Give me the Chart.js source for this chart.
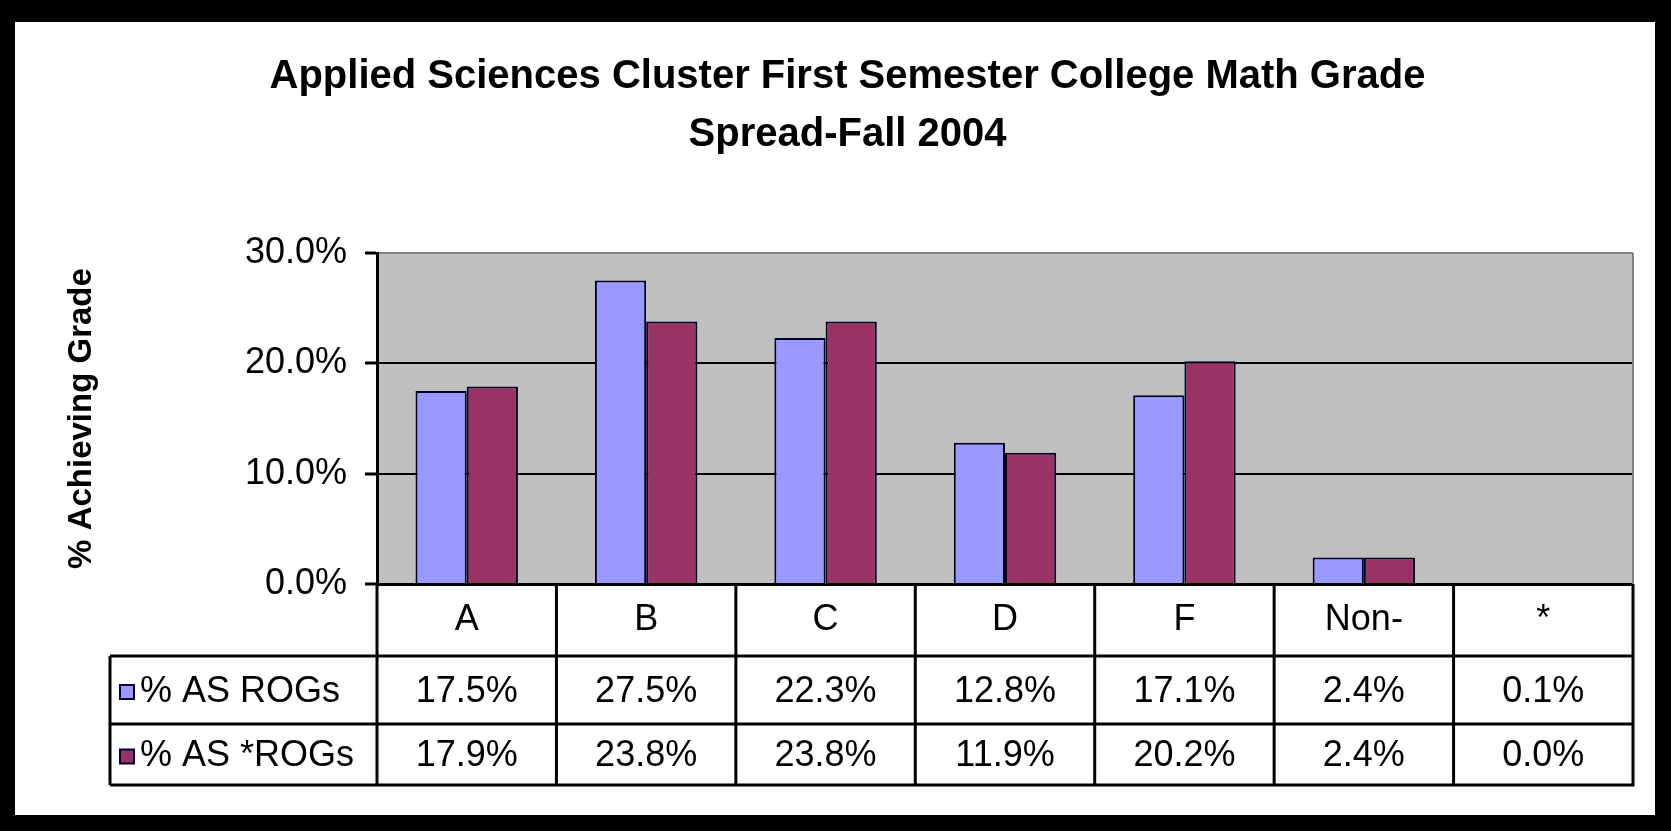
<!DOCTYPE html>
<html>
<head>
<meta charset="utf-8">
<script src="https://cdn.jsdelivr.net/npm/chart.js@4.4.1/dist/chart.umd.min.js"></script>
<style>
  html, body { margin: 0; padding: 0; background: #000; }
  body { width: 1671px; height: 831px; position: relative; overflow: hidden; }
  #frame { position: absolute; left: 15px; top: 22px; width: 1640px; height: 793px; background: #fff; }
</style>
</head>
<body>
<div id="frame"><canvas id="chart"></canvas></div>
<script>
// data
const grades = ['A', 'B', 'C', 'D', 'F', 'Non-', '*'];
const seriesNames = ['% AS ROGs', '% AS *ROGs'];
const rogs = [17.5, 27.5, 22.3, 12.8, 17.1, 2.4, 0.1];
const starRogs = [17.9, 23.8, 23.8, 11.9, 20.2, 2.4, 0.0];
const yTicks = [0, 10, 20, 30];

const BLUE = '#9999FF';
const PLUM = '#993366';
const FONT = "'Liberation Sans', Arial, sans-serif";

Chart.defaults.font.family = FONT;
Chart.defaults.color = '#000';

const pct = v => Number(v).toFixed(1) + '%';

// gray plot area + gray top/right border like the old Excel look
const plotBg = {
  id: 'plotBg',
  beforeDraw(chart) {
    const { ctx, chartArea: a } = chart;
    ctx.save();
    ctx.fillStyle = '#C0C0C0';
    ctx.fillRect(a.left, a.top, a.right - a.left, a.bottom - a.top);
    ctx.restore();
  },
  beforeDatasetsDraw(chart) {
    const { ctx, chartArea: a } = chart;
    ctx.save();
    ctx.strokeStyle = '#808080';
    ctx.lineWidth = 2;
    ctx.beginPath();
    ctx.moveTo(a.right, a.top);
    ctx.lineTo(a.right, a.bottom);
    ctx.stroke();
    ctx.restore();
  }
};

// data table under the axis, columns follow the x scale
const dataTable = {
  id: 'dataTable',
  afterDraw(chart) {
    const { ctx, chartArea: a, scales: { x } } = chart;
    const half = (x.getPixelForValue(1) - x.getPixelForValue(0)) / 2;
    const rows = [a.bottom + 72, a.bottom + 140, a.bottom + 201];
    const legLeft = 95;
    ctx.save();
    ctx.strokeStyle = '#000';
    ctx.lineWidth = 3;
    ctx.beginPath();
    rows.forEach(y => { ctx.moveTo(legLeft, y); ctx.lineTo(a.right + 1.5, y); });
    grades.forEach((g, i) => {
      const xl = x.getPixelForValue(i) - half;
      ctx.moveTo(xl, a.bottom); ctx.lineTo(xl, rows[2]);
    });
    ctx.moveTo(a.right, a.bottom); ctx.lineTo(a.right, rows[2]);
    ctx.moveTo(legLeft, rows[0]); ctx.lineTo(legLeft, rows[2]);
    ctx.stroke();

    ctx.font = '36px ' + FONT;
    ctx.fillStyle = '#000';
    ctx.textBaseline = 'middle';
    const series = [[rogs, BLUE], [starRogs, PLUM]];
    series.forEach(([vals, col], r) => {
      const yc = (rows[r] + rows[r + 1]) / 2 + 2;
      // legend key
      ctx.fillStyle = col;
      ctx.fillRect(105, yc - 7, 14, 14);
      ctx.lineWidth = 2;
      ctx.strokeStyle = '#000033';
      ctx.strokeRect(105, yc - 7, 14, 14);
      ctx.fillStyle = '#000';
      ctx.textAlign = 'left';
      ctx.fillText(seriesNames[r], 125, yc);
      ctx.textAlign = 'center';
      vals.forEach((v, i) => ctx.fillText(pct(v), x.getPixelForValue(i), yc));
    });
    ctx.restore();
  }
};

new Chart(document.getElementById('chart'), {
  type: 'bar',
  data: {
    labels: grades,
    datasets: [
      { label: seriesNames[0], data: rogs, backgroundColor: BLUE, borderColor: '#000022', borderWidth: 2, borderSkipped: 'bottom' },
      { label: seriesNames[1], data: starRogs, backgroundColor: PLUM, borderColor: '#000022', borderWidth: 2, borderSkipped: 'bottom' },
    ],
  },
  options: {
    responsive: true,
    maintainAspectRatio: false,
    animation: false,
    layout: { padding: { left: 47, right: 22, top: 0, bottom: 0 } },
    datasets: { bar: { categoryPercentage: 0.571, barPercentage: 1.0 } },
    plugins: {
      legend: { display: false },
      tooltip: { enabled: false },
      title: {
        display: true,
        text: ['Applied Sciences Cluster First Semester College Math Grade', 'Spread-Fall 2004'],
        color: '#000',
        font: { size: 40, weight: 'bold', lineHeight: 1.45 },
        padding: { top: 26, bottom: 89 },
      },
    },
    scales: {
      x: {
        grid: { display: false, drawTicks: false },
        border: { color: '#000', width: 3 },
        ticks: { font: { size: 36 }, padding: 14, color: '#000' },
        afterFit: s => { s.height = 231; },
      },
      y: {
        min: 0,
        max: 30,
        afterBuildTicks: s => { s.ticks = yTicks.map(v => ({ value: v })); },
        grid: {
          color: c => (c.tick && c.tick.value === 30 ? '#808080' : '#000'),
          lineWidth: 2,
          tickColor: '#000',
          tickWidth: 3,
          tickLength: 12,
        },
        border: { color: '#000', width: 3 },
        ticks: { font: { size: 36 }, padding: 18, color: '#000', callback: v => pct(v) },
        title: {
          display: true,
          text: '% Achieving Grade',
          font: { size: 33, weight: 'bold' },
          padding: 0,
          color: '#000',
        },
        afterFit: s => { s.width = 315; },
      },
    },
  },
  plugins: [plotBg, dataTable],
});
</script>
</body>
</html>
